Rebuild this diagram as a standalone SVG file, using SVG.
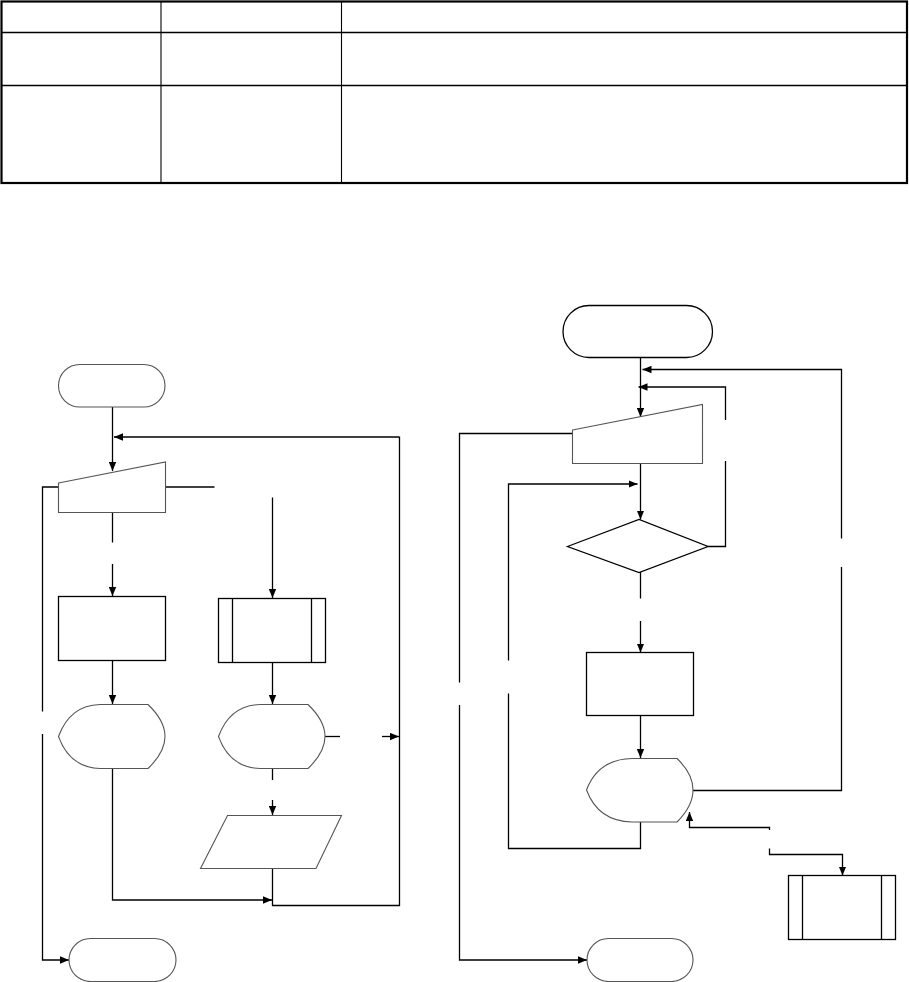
<svg xmlns="http://www.w3.org/2000/svg" width="909" height="982" viewBox="0 0 909 982">
<style>
.c{fill:none;stroke:#000;stroke-width:1.3}
.s{fill:#fff;stroke:#000;stroke-width:1.3}
.g{fill:#fff;stroke:#555;stroke-width:1.1}
.tb{fill:none;stroke:#000}
</style>
<defs>
<marker id="a" markerUnits="userSpaceOnUse" markerWidth="9" markerHeight="8" refX="9" refY="4" orient="auto">
<path d="M0,0.3 L9,4 L0,7.7 z" fill="#000"/>
</marker>
</defs>
<rect width="909" height="982" fill="#fff"/>
<g id="table">
<rect x="1.5" y="1.5" width="905.5" height="181.5" class="tb" stroke-width="2.2"/>
<line x1="1.5" y1="32.5" x2="907" y2="32.5" class="tb" stroke-width="1.6"/>
<line x1="1.5" y1="85.5" x2="907" y2="85.5" class="tb" stroke-width="1.6"/>
<line x1="161" y1="1.5" x2="161" y2="183" class="tb" stroke-width="1.1"/>
<line x1="341.5" y1="1.5" x2="341.5" y2="183" class="tb" stroke-width="1.1"/>
</g>
<g id="connectors">
<!-- left chart -->
<path class="c" d="M112.5,407 V471" marker-end="url(#a)"/>
<path class="c" d="M399,437 H114" marker-end="url(#a)"/>
<path class="c" d="M58,487 H42.5 V711.5"/>
<path class="c" d="M42.5,734 V960 H69" marker-end="url(#a)"/>
<path class="c" d="M165,487 H214.5"/>
<path class="c" d="M272.5,497.5 V598" marker-end="url(#a)"/>
<path class="c" d="M112.5,513 V542.5"/>
<path class="c" d="M112.5,564 V596" marker-end="url(#a)"/>
<path class="c" d="M112.5,660 V704" marker-end="url(#a)"/>
<path class="c" d="M272.5,662 V704" marker-end="url(#a)"/>
<path class="c" d="M112.5,768 V900 H272" marker-end="url(#a)"/>
<path class="c" d="M272.5,768 V780"/>
<path class="c" d="M272.5,800 V815" marker-end="url(#a)"/>
<path class="c" d="M272.5,868 V905.5 H399.5 V436.5"/>
<path class="c" d="M325,736.5 H340"/>
<path class="c" d="M382,736.5 H399" marker-end="url(#a)"/>
<!-- right chart -->
<path class="c" d="M640.5,357 V417" marker-end="url(#a)"/>
<path class="c" d="M841.5,538.5 V369.5 H642.5" marker-end="url(#a)"/>
<path class="c" d="M841.5,567 V790.5 H692.5"/>
<path class="c" d="M725.5,420 V387 H638.5" marker-end="url(#a)"/>
<path class="c" d="M708,546.5 H725.5 V461"/>
<path class="c" d="M572.5,433.5 H459.5 V682.5"/>
<path class="c" d="M459.5,705 V960 H587" marker-end="url(#a)"/>
<path class="c" d="M640.5,463 V519.5" marker-end="url(#a)"/>
<path class="c" d="M508.5,660.5 V484 H637.5" marker-end="url(#a)"/>
<path class="c" d="M508.5,693.5 V848.5 H640.5 V822"/>
<path class="c" d="M640.5,572 V598.5"/>
<path class="c" d="M640.5,621 V652.5" marker-end="url(#a)"/>
<path class="c" d="M640.5,715 V758" marker-end="url(#a)"/>
<path class="c" d="M769.5,830 V827.5 H689.5 V812" marker-end="url(#a)"/>
<path class="c" d="M769.5,848.5 V854.5 H842.5 V875.5" marker-end="url(#a)"/>
</g>
<g id="start1"><rect class="g" x="58.5" y="364.5" width="106.5" height="42.5" rx="21.2"/></g>
<g id="input1"><path class="g" d="M58.5,483 L165.5,462 V512.5 H58.5 Z"/></g>
<g id="process1"><rect class="s" x="58.5" y="596.5" width="107" height="64"/></g>
<g id="sub1"><rect class="s" x="218.5" y="598.5" width="107" height="64"/><path class="c" d="M232.5,598.5 V662.5 M311.5,598.5 V662.5"/></g>
<g id="display1"><path class="g" d="M58.5,736.5 C66,716 80,705 100,704.5 L148,704.5 C159,715 165,725 165,736.5 C165,748 159,758 148,768.5 L100,768.5 C80,768 66,757 58.5,736.5 Z"/></g>
<g id="display2"><path class="g" d="M218.5,736.5 C226,716 240,705 260,704.5 L308,704.5 C319,715 325,725 325,736.5 C325,748 319,758 308,768.5 L260,768.5 C240,768 226,757 218.5,736.5 Z"/></g>
<g id="io1"><path class="g" d="M227.5,815.5 H341.5 L316,868.5 H200.5 Z"/></g>
<g id="end1"><rect class="g" x="69" y="938.5" width="107" height="43" rx="21.5"/></g>
<g id="start2"><rect class="s" x="563" y="305.5" width="149.5" height="52" rx="26"/></g>
<g id="input2"><path class="g" d="M572.5,430 L702.5,404.5 V463.5 H572.5 Z"/></g>
<g id="decision"><path class="s" d="M567.5,546.5 L639,519.5 L708,546.5 L639,572.5 Z"/></g>
<g id="process2"><rect class="s" x="586.5" y="652.5" width="107" height="63"/></g>
<g id="display3"><path class="g" d="M586.5,790 C594,770 608,759 632,758.5 L677,758.5 C688,769 693,779 693,790 C693,801 688,811 677,822 L632,822 C608,821.5 594,810 586.5,790 Z"/></g>
<g id="sub2"><rect class="s" x="788.5" y="875.5" width="107" height="64"/><path class="c" d="M802.5,875.5 V939.5 M881.5,875.5 V939.5"/></g>
<g id="end2"><rect class="g" x="587" y="938.5" width="106" height="43" rx="21.5"/></g>
</svg>
